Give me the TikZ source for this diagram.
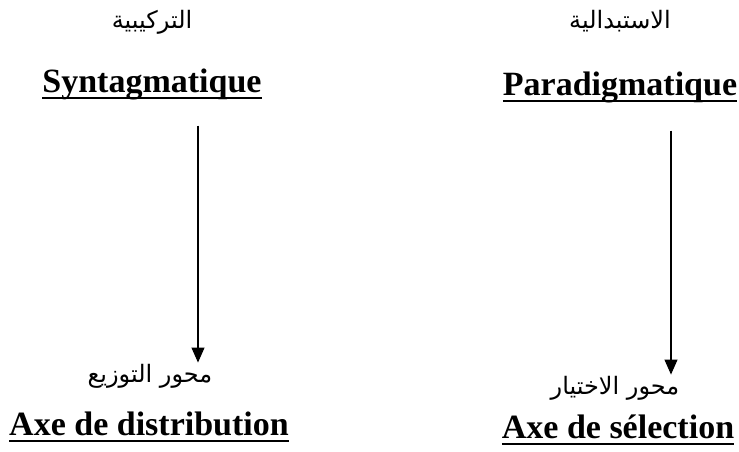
\documentclass[tikz,border=0pt]{standalone}
\usepackage{fontspec}
\setmainfont{Liberation Serif}
\newfontfamily\arabicfont[Script=Arabic]{DejaVu Sans}
\TeXXeTstate=1
\usetikzlibrary{arrows.meta}

\newsavebox\ulbox
\newcommand{\ulword}[1]{\sbox\ulbox{#1}\rlap{\rule[-7pt]{\wd\ulbox}{1.8pt}}\usebox\ulbox}

\begin{document}
\begin{tikzpicture}[
    x=1pt,
    y=-1pt,
    term/.style={
        font=\fontsize{34}{40}\selectfont\bfseries,
        inner sep=0pt,
        anchor=base
    },
    arlabel/.style={
        font=\fontsize{24}{28}\selectfont\arabicfont,
        inner sep=0pt,
        anchor=base
    },
    arrow/.style={-{Triangle[width=13pt,length=15pt]}, line width=1.1pt}
]
\useasboundingbox (0,0) rectangle (739,451);

% Upper row
\node[arlabel] (tarkib) at (152,28) {\beginR التركيبية\endR};
\node[arlabel] (istibdal) at (620,28) {\beginR الاستبدالية\endR};

\node[term] (syn) at (152,92) {\ulword{Syntagmatique}};
\node[term] (para) at (620,95) {\ulword{Paradigmatique}};

% Lower row
\node[arlabel] (tawzi) at (150,382) {\beginR محور التوزيع\endR};
\node[arlabel] (ikhtiyar) at (615,394) {\beginR محور الاختيار\endR};

\node[term] (dist) at (149,435) {\ulword{Axe de distribution}};
\node[term] (sel) at (618,438) {\ulword{Axe de sélection}};

% Axes
\draw[arrow] ([xshift=46pt,yshift=-26pt]syn.south) -- ([xshift=48pt,yshift=1pt]tawzi.north);
\draw[arrow] ([xshift=51pt,yshift=-28pt]para.south) -- ([xshift=56pt,yshift=1pt]ikhtiyar.north);

\end{tikzpicture}
\end{document}
